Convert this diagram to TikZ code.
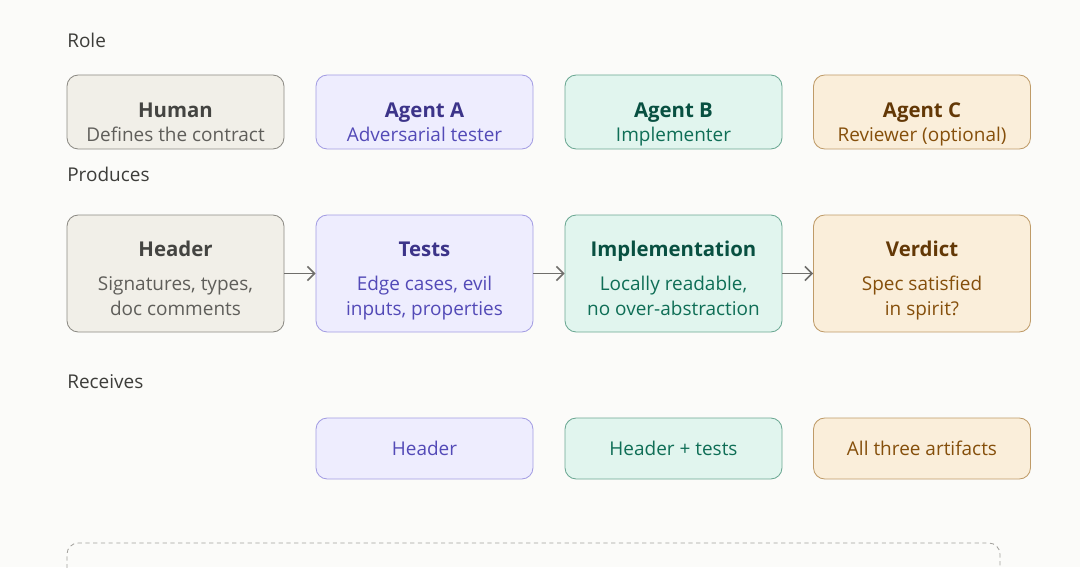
\documentclass[tikz,border=0pt]{standalone}
\usepackage{fontspec}
\setmainfont{Open Sans}
\usepackage{tikz}
\usetikzlibrary{arrows.meta,positioning,calc}
\definecolor{Paper}{HTML}{FBFBF9}
\definecolor{Ink}{HTML}{3D3D3A}
\definecolor{GrayFill}{HTML}{F1EFE8}
\definecolor{GrayLine}{HTML}{8C8A84}
\definecolor{GrayTitle}{HTML}{444441}
\definecolor{GrayText}{HTML}{5F5E5A}
\definecolor{VioFill}{HTML}{EEEDFE}
\definecolor{VioLine}{HTML}{A39DE3}
\definecolor{VioTitle}{HTML}{3C3489}
\definecolor{VioText}{HTML}{534AB7}
\definecolor{MintFill}{HTML}{E1F5EE}
\definecolor{MintLine}{HTML}{6BA893}
\definecolor{MintTitle}{HTML}{085041}
\definecolor{MintText}{HTML}{0F6E56}
\definecolor{SandFill}{HTML}{FAEEDA}
\definecolor{SandLine}{HTML}{BF9B68}
\definecolor{SandTitle}{HTML}{633806}
\definecolor{SandText}{HTML}{854F0B}

\begin{document}
\begin{tikzpicture}[font=\fontsize{13.5}{17.7}\selectfont, >={Straight Barb[length=5pt,width=10pt]}]
\tikzset{card/.style={rounded corners=8pt, line width=0.6pt, minimum width=5.425cm, inner sep=0pt, text height=11.4pt, text depth=1.6pt}, graycard/.style={card, draw=GrayLine, fill=GrayFill}, viocard/.style={card, draw=VioLine, fill=VioFill}, mintcard/.style={card, draw=MintLine, fill=MintFill}, sandcard/.style={card, draw=SandLine, fill=SandFill}, ttl/.style={font=\fontsize{14.5}{17}\selectfont\bfseries, inner sep=0pt, anchor=base}, sub/.style={inner sep=0pt, anchor=base}, body/.style={align=center, inner sep=0pt, execute at begin node=\strut, execute at end node=\strut}, rowlabel/.style={anchor=west, inner sep=0pt, text=Ink}, arr/.style={->, line width=1.1pt, GrayText!90}}
\useasboundingbox[fill=Paper] (0,0) rectangle (27,-14.175);
% row labels
\node[rowlabel] (roleL) at (1.675,-1.0) {Role};
\node[rowlabel] (prodL) at (1.675,-4.35) {Produces};
\node[rowlabel] (recvL) at (1.675,-9.55) {Receives};
% roles
\node[graycard, minimum height=1.85cm] (human) at (4.3875,-2.8) {};
\node[viocard, minimum height=1.85cm] (agentA) at (10.6125,-2.8) {};
\node[mintcard, minimum height=1.85cm] (agentB) at (16.8375,-2.8) {};
\node[sandcard, minimum height=1.85cm] (agentC) at (23.05,-2.8) {};
\node[ttl, text=GrayTitle] (humanT) at (4.3875,-2.93) {Human};
\node[sub, text=GrayText] (humanS) at (4.3875,-3.54) {Defines the contract};
\node[ttl, text=VioTitle] (agentAT) at (10.6125,-2.93) {Agent A};
\node[sub, text=VioText] (agentAS) at (10.6125,-3.54) {Adversarial tester};
\node[ttl, text=MintTitle] (agentBT) at (16.8375,-2.93) {Agent B};
\node[sub, text=MintText] (agentBS) at (16.8375,-3.54) {Implementer};
\node[ttl, text=SandTitle] (agentCT) at (23.05,-2.93) {Agent C};
\node[sub, text=SandText] (agentCS) at (23.05,-3.54) {Reviewer (optional)};
% artifacts
\node[graycard, minimum height=2.925cm] (header) at (4.3875,-6.8375) {};
\node[viocard, minimum height=2.925cm] (tests) at (10.6125,-6.8375) {};
\node[mintcard, minimum height=2.925cm] (impl) at (16.8375,-6.8375) {};
\node[sandcard, minimum height=2.925cm] (verdict) at (23.05,-6.8375) {};
\node[ttl, text=GrayTitle] (headerT) at (4.3875,-6.41) {Header};
\node[body, text=GrayText] (headerS) at (4.3875,-7.49) {Signatures, types,\\doc comments};
\node[ttl, text=VioTitle] (testsT) at (10.6125,-6.41) {Tests};
\node[body, text=VioText] (testsS) at (10.6125,-7.49) {Edge cases, evil\\inputs, properties};
\node[ttl, text=MintTitle] (implT) at (16.8375,-6.41) {Implementation};
\node[body, text=MintText] (implS) at (16.8375,-7.49) {Locally readable,\\no over-abstraction};
\node[ttl, text=SandTitle] (verdictT) at (23.05,-6.41) {Verdict};
\node[body, text=SandText] (verdictS) at (23.05,-7.49) {Spec satisfied\\in spirit?};
\draw[arr] (header)--(tests); \draw[arr] (tests)--(impl); \draw[arr] (impl)--(verdict);
% inputs
\node[viocard, minimum height=1.525cm, text=VioText] (recvA) at (10.6125,-11.2125) {Header};
\node[mintcard, minimum height=1.525cm, text=MintText] (recvB) at (16.8375,-11.2125) {Header + tests};
\node[sandcard, minimum height=1.525cm, text=SandText] (recvC) at (23.05,-11.2125) {All three artifacts};
% dashed frame running off the bottom
\draw[GrayLine!80, line width=0.6pt, dash pattern=on 3pt off 2.5pt, rounded corners=8pt] (1.675,-14.4)--(1.675,-13.575)--(25.0,-13.575)--(25.0,-14.4);
\end{tikzpicture}
\end{document}
